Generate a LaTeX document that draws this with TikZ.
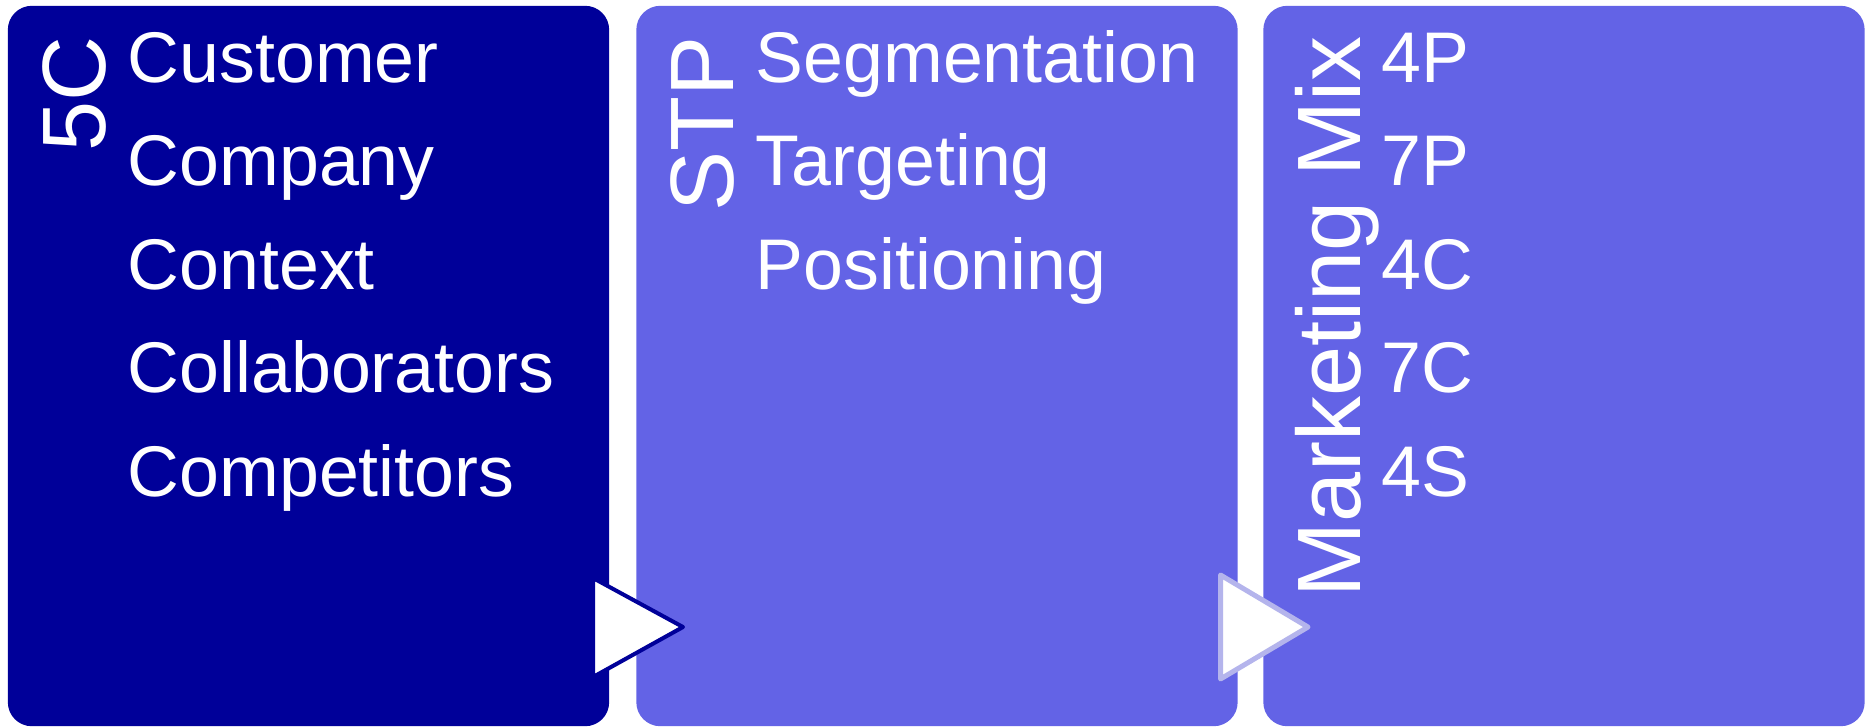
\documentclass[tikz,border=0pt]{standalone}
\usepackage{fontspec}
\setmainfont{Liberation Sans}
\usepackage{xcolor}
\usepackage{tikz}
\usetikzlibrary{positioning}

\definecolor{deepblue}{RGB}{0,0,153}
\definecolor{softblue}{RGB}{99,99,230}
\definecolor{paleblue}{RGB}{180,180,236}

\begin{document}
\begin{tikzpicture}[x=0.01cm,y=-0.01cm,
    panel/.style={rectangle,rounded corners=0.24cm,minimum width=6.01cm,
        minimum height=7.2cm,inner sep=0pt,draw=none},
    title/.style={rotate=90,anchor=base east,inner sep=0pt,text=white,
        font=\fontsize{25.6pt}{30pt}\selectfont},
    item/.style={anchor=base west,inner sep=0pt,text=white,
        font=\fontsize{20.4pt}{24pt}\selectfont},
    pointer/.style={fill=white,line join=round}]

\useasboundingbox (0,0) rectangle (1871,726);

\node[panel,fill=deepblue] (FiveC) at (308.5,366) {};
\node[panel,fill=softblue] (STP) at (937,366) {};
\node[panel,fill=softblue] (MixBox) at (1564,366) {};

\filldraw[pointer,draw=deepblue,line width=0.04cm]
    (593,578) -- (683,627) -- (593,677) -- cycle;
\filldraw[pointer,draw=paleblue,line width=0.05cm]
    (1220.5,575) -- (1308,627) -- (1220.5,679) -- cycle;

\node[title] (FiveC_t) at (105,36) {5C};
\node[item] (Cust) at (127,82) {Customer};
\node[item] (Comp) at (127,185.5) {Company};
\node[item] (Cont) at (127,289) {Context};
\node[item] (Coll) at (127,392.5) {Collaborators};
\node[item] (Rivals) at (127,496) {Competitors};

\node[title] (STP_t) at (733,36) {STP};
\node[item] (Seg) at (755,82) {Segmentation};
\node[item] (Tar) at (755,185.5) {Targeting};
\node[item] (Pos) at (755,289) {Positioning};

\node[title] (Mix_t) at (1360,36) {Marketing Mix};
\node[item] (P4) at (1381,82) {4P};
\node[item] (P7) at (1381,185.5) {7P};
\node[item] (C4) at (1381,289) {4C};
\node[item] (C7) at (1381,392.5) {7C};
\node[item] (S4) at (1381,496) {4S};

\end{tikzpicture}
\end{document}
